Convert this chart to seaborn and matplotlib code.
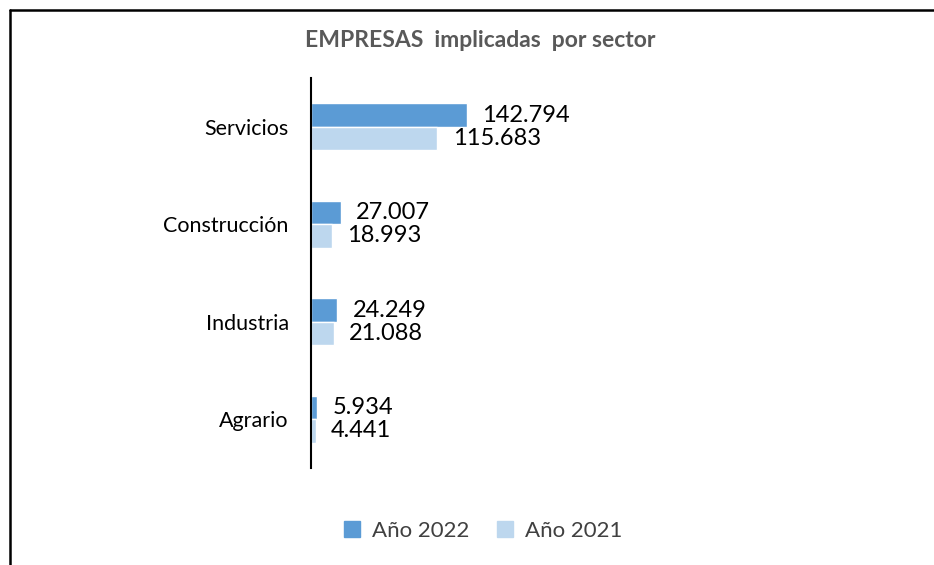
import pandas as pd
import matplotlib.pyplot as plt
import seaborn as sns
from matplotlib.lines import Line2D

sectors = ["Servicios", "Construcción", "Industria", "Agrario"]
year_2022 = [142794, 27007, 24249, 5934]
year_2021 = [115683, 18993, 21088, 4441]
series = ["Año 2022", "Año 2021"]
colors = ["#5B9BD5", "#BDD7EE"]

df = pd.DataFrame({
    "Sector": sectors * 2,
    "Empresas": year_2022 + year_2021,
    "Año": [series[0]] * 4 + [series[1]] * 4,
})

sns.set_style("white")
plt.rcParams["font.family"] = ["Lato", "DejaVu Sans"]

fig = plt.figure(figsize=(9.34, 5.65), dpi=100)
ax = fig.add_axes([311 / 934, 97 / 565, 589 / 934, 390 / 565])

sns.barplot(data=df, y="Sector", x="Empresas", hue="Año", order=sectors,
            hue_order=series, palette=colors, width=0.48, orient="h",
            saturation=1, legend=False, ax=ax)

# data labels
for cont in ax.containers:
    labels = [f"{int(b.get_width()):,}".replace(",", ".") for b in cont]
    ax.bar_label(cont, labels=labels, padding=11, fontsize=17, color="#000000")

ax.set_xlim(0, 539000)
ax.set_ylim(3.5, -0.5)
ax.set_xlabel("")
ax.set_ylabel("")
ax.set_xticks([])
for s in ["top", "right", "bottom"]:
    ax.spines[s].set_visible(False)
ax.spines["left"].set_color("black")
ax.spines["left"].set_linewidth(1.5)
ax.tick_params(axis="y", length=0, pad=16, labelsize=15.5, labelcolor="#000000")

fig.text(0.514, 0.929, "EMPRESAS  implicadas  por sector", ha="center", va="center",
         fontsize=16.5, fontweight="bold", color="#595959")

handles = [Line2D([], [], marker="s", linestyle="", markersize=11,
                  markerfacecolor=c, markeredgecolor=c) for c in colors]
fig.legend(handles, series, loc="center", bbox_to_anchor=(0.516, 0.06), ncol=2,
           frameon=False, fontsize=16, labelcolor="#404040", handletextpad=0.4,
           columnspacing=1.1, handlelength=1.0)

# outer chart frame (only top and left edges visible)
fig.add_artist(Line2D([10 / 934, 1], [1 - 10 / 565, 1 - 10 / 565],
                      transform=fig.transFigure, color="black", linewidth=1.8))
fig.add_artist(Line2D([10 / 934, 10 / 934], [0, 1 - 10 / 565],
                      transform=fig.transFigure, color="black", linewidth=1.8))

fig.savefig("out.png", dpi=100)
